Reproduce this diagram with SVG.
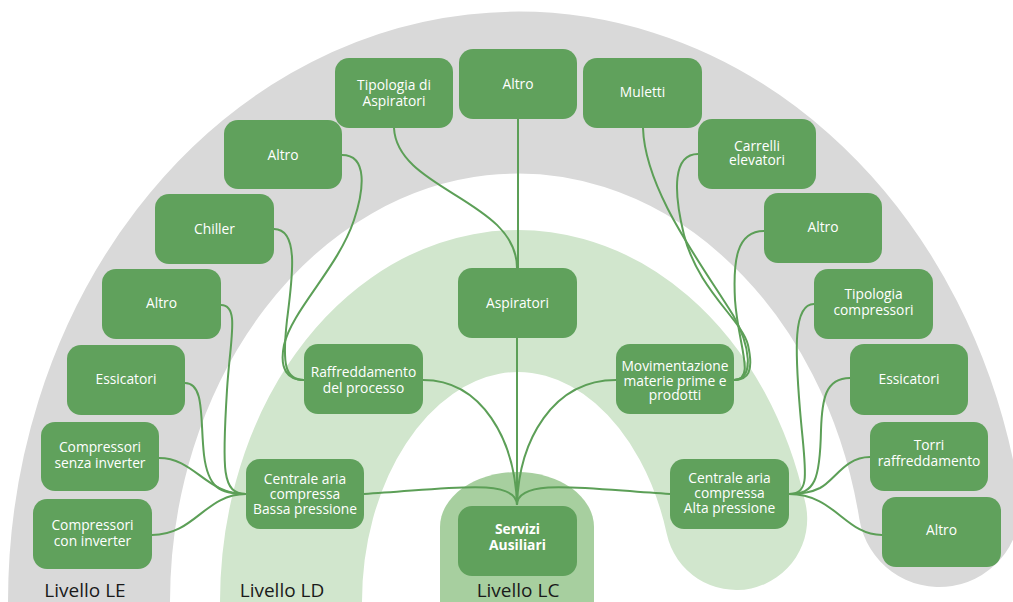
<svg xmlns="http://www.w3.org/2000/svg" width="1013" height="602" viewBox="0 0 1013 602">
<style>
.n rect{fill:#60a15c;}
.n text{font-family:"Open Sans","Liberation Sans",sans-serif;font-size:13.8px;fill:#ffffff;text-anchor:middle;}
.b text{font-weight:700;}
.c path{fill:none;stroke:#5c9f57;stroke-width:2;}
.lv{font-family:"Open Sans","Liberation Sans",sans-serif;font-size:19px;fill:#1a1a1a;text-anchor:middle;}
</style>
<rect width="1013" height="602" fill="#ffffff"/>
<g id="bands">
<path d="M89,660 L89,602 A429,509.5 0 0 1 939.3,506" fill="none" stroke="#d9d9d9" stroke-width="162" stroke-linecap="round"/>
<path d="M291,660 L291,602 A227,301 0 0 1 736.2,519" fill="none" stroke="#d1e6cd" stroke-width="142" stroke-linecap="round"/>
<path d="M440,602 V527 A77,55 0 0 1 594,527 V602 Z" fill="#a7cf9f"/>
</g>
<g id="connectors" class="c">
<path d="M518,119 L518,268"/>
<path d="M394,128 C397,190 517,200 517,268"/>
<path d="M517,338 L517,505"/>
<path d="M423,380 C482,380 515,440 517,505"/>
<path d="M616,380 C553,380 519,440 517,505"/>
<path d="M364,494 C440,490 517,476 517,505"/>
<path d="M670,494 C594,490 517,476 517,505"/>
<path d="M274,229 C300,229 292,280 287,320 C282,365 285,380 304,380"/>
<path d="M342,155 C368,155 364,190 354,220 C338,268 292,310 284,345 C279,370 288,380 304,380"/>
<path d="M221,305 C240,305 230,340 227,390 C222,470 222,494 246,494"/>
<path d="M185,383 C205,383 200,420 204,455 C208,488 220,494 246,494"/>
<path d="M159,458 C195,458 205,494 246,494"/>
<path d="M152,535 C195,535 205,494 246,494"/>
<path d="M643,128 C645,190 700,262 733,315 C750,345 755,380 734,380"/>
<path d="M698,154 C673,154 673,190 684,235 C698,290 742,320 748,345 C754,372 748,380 734,380"/>
<path d="M764,231 C736,231 733,262 735,300 C738,345 756,380 734,380"/>
<path d="M814,304 C793,304 795,350 800,410 C805,470 812,494 789,494"/>
<path d="M850,378 C825,378 822,400 821,430 C820,480 815,494 789,494"/>
<path d="M870,457 C845,457 835,480 820,488 C810,493 800,494 789,494"/>
<path d="M882,535 C845,535 835,494 789,494"/>
</g>
<g id="n-tipasp" class="n"><rect x="335" y="58" width="118" height="70" rx="14"/><text x="394" y="90">Tipologia di</text><text x="394" y="106">Aspiratori</text></g>
<g id="n-altro-top" class="n"><rect x="459" y="49" width="118" height="70" rx="14"/><text x="518" y="89">Altro</text></g>
<g id="n-muletti" class="n"><rect x="583" y="58" width="119" height="70" rx="14"/><text x="642.5" y="97">Muletti</text></g>
<g id="n-altro-l1" class="n"><rect x="224" y="120" width="118" height="69" rx="14"/><text x="283" y="160">Altro</text></g>
<g id="n-carrelli" class="n"><rect x="698" y="119" width="118" height="70" rx="14"/><text x="757" y="151">Carrelli</text><text x="757" y="164.5">elevatori</text></g>
<g id="n-chiller" class="n"><rect x="155" y="194" width="119" height="70" rx="14"/><text x="214.5" y="234">Chiller</text></g>
<g id="n-altro-r1" class="n"><rect x="764" y="193" width="118" height="70" rx="14"/><text x="823" y="232">Altro</text></g>
<g id="n-altro-l2" class="n"><rect x="102" y="269" width="119" height="70" rx="14"/><text x="161.5" y="308">Altro</text></g>
<g id="n-tipcomp" class="n"><rect x="814" y="269" width="119" height="70" rx="14"/><text x="873.5" y="299">Tipologia</text><text x="873.5" y="315">compressori</text></g>
<g id="n-aspiratori" class="n"><rect x="458" y="268" width="119" height="70" rx="14"/><text x="517.5" y="308">Aspiratori</text></g>
<g id="n-ess-l" class="n"><rect x="67" y="345" width="118" height="70" rx="14"/><text x="126" y="384">Essicatori</text></g>
<g id="n-raff" class="n"><rect x="304" y="344" width="119" height="70" rx="14"/><text x="363.5" y="377">Raffreddamento</text><text x="363.5" y="393">del processo</text></g>
<g id="n-movim" class="n"><rect x="616" y="344" width="118" height="70" rx="14"/><text x="675" y="371">Movimentazione</text><text x="675" y="385.5">materie prime e</text><text x="675" y="400">prodotti</text></g>
<g id="n-ess-r" class="n"><rect x="850" y="344" width="118" height="71" rx="14"/><text x="909" y="384">Essicatori</text></g>
<g id="n-comp-senza" class="n"><rect x="41" y="422" width="118" height="69" rx="14"/><text x="100" y="452">Compressori</text><text x="100" y="468">senza inverter</text></g>
<g id="n-torri" class="n"><rect x="870" y="422" width="118" height="69" rx="14"/><text x="929" y="450">Torri</text><text x="929" y="466">raffreddamento</text></g>
<g id="n-bassa" class="n"><rect x="246" y="459" width="118" height="70" rx="14"/><text x="305" y="484">Centrale aria</text><text x="305" y="499">compressa</text><text x="305" y="514">Bassa pressione</text></g>
<g id="n-alta" class="n"><rect x="670" y="459" width="119" height="70" rx="14"/><text x="729.5" y="483">Centrale aria</text><text x="729.5" y="498">compressa</text><text x="729.5" y="513">Alta pressione</text></g>
<g id="n-comp-con" class="n"><rect x="33" y="499" width="119" height="70" rx="14"/><text x="92.5" y="530">Compressori</text><text x="92.5" y="546">con inverter</text></g>
<g id="n-altro-r2" class="n"><rect x="882" y="497" width="119" height="70" rx="14"/><text x="941.5" y="535">Altro</text></g>
<g id="n-servizi" class="n b"><rect x="458" y="506" width="119" height="70" rx="14"/><text x="517.5" y="534">Servizi</text><text x="517.5" y="550">Ausiliari</text></g>
<g id="labels">
<text class="lv" x="85" y="597">Livello LE</text>
<text class="lv" x="282" y="597">Livello LD</text>
<text class="lv" x="518" y="597">Livello LC</text>
</g>
</svg>
